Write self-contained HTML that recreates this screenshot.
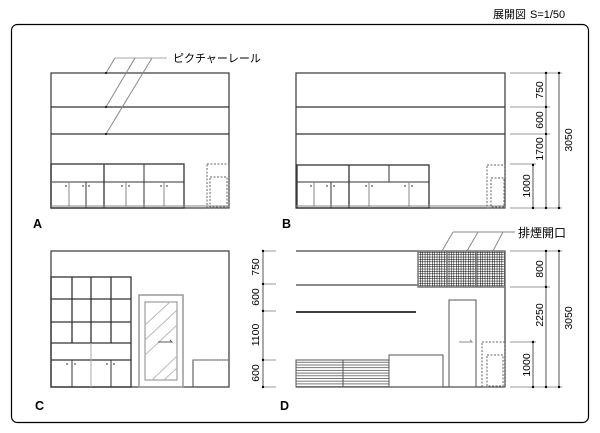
<!DOCTYPE html>
<html><head><meta charset="utf-8"><style>
html,body{margin:0;padding:0;background:#fff;}
svg{display:block;}
text{font-family:"Liberation Sans","Noto Sans CJK JP",sans-serif;fill:#000;}
</style></head><body>
<svg width="600" height="433" viewBox="0 0 600 433" xmlns="http://www.w3.org/2000/svg">
<defs>
<pattern id="grid" width="2.4" height="2.4" patternUnits="userSpaceOnUse">
<rect width="2.4" height="2.4" fill="#fff"/>
<path d="M0 0H2.4M0 0V2.4" stroke="#000" stroke-width="1"/>
</pattern>
<pattern id="louv" width="10" height="2.7" patternUnits="userSpaceOnUse">
<rect width="10" height="2.7" fill="#fff"/>
<path d="M0 0.5H10" stroke="#555" stroke-width="0.8"/>
</pattern>
</defs>
<text x="493" y="18" font-size="11">展開図</text>
<text x="530" y="18" font-size="11">S=1/50</text>
<rect x="11.5" y="24.5" width="577" height="398" rx="6" fill="none" stroke="#000" stroke-width="1.2"/>

<g fill="none" stroke="#333" stroke-width="1">
<!-- A -->
<rect x="51" y="73" width="178" height="135" stroke="#444" stroke-width="1.3"/>
<line x1="51" y1="107" x2="229" y2="107" stroke-width="1.3"/>
<line x1="51" y1="134" x2="229" y2="134" stroke-width="1.3"/>
<rect x="51" y="164" width="133" height="44" stroke-width="1.3"/>
<line x1="104" y1="164" x2="104" y2="208" stroke-width="1.3"/>
<line x1="144" y1="164" x2="144" y2="208"/>
<line x1="52" y1="182" x2="184" y2="182"/>
<line x1="69" y1="182" x2="69" y2="208" stroke="#888"/>
<line x1="86" y1="182" x2="86" y2="208"/>
<line x1="126" y1="182" x2="126" y2="208" stroke="#888"/>
<line x1="164" y1="182" x2="164" y2="208" stroke="#888"/>
<line x1="51" y1="206" x2="229" y2="206" stroke="#888"/>
<rect x="207" y="164" width="22" height="44" stroke="#666" stroke-dasharray="2,1.5"/>
<rect x="210" y="177" width="17" height="30" stroke="#666" stroke-dasharray="2,1.5"/>
<!-- leader A -->
<polyline points="167,58 115,58" stroke="#aaa"/>
<line x1="115" y1="58" x2="106" y2="73" stroke="#888"/>
<line x1="135" y1="58" x2="106" y2="107" stroke="#888"/>
<line x1="152" y1="58" x2="106" y2="134" stroke="#888"/>

<!-- B -->
<rect x="296" y="73" width="209" height="135" stroke="#444" stroke-width="1.3"/>
<line x1="296" y1="107" x2="505" y2="107" stroke-width="1.3"/>
<line x1="296" y1="134" x2="505" y2="134" stroke-width="1.3"/>
<rect x="297" y="165" width="132" height="43" stroke-width="1.3"/>
<line x1="349" y1="165" x2="349" y2="208" stroke-width="1.3"/>
<line x1="389" y1="165" x2="389" y2="182"/>
<line x1="297" y1="182" x2="429" y2="182"/>
<line x1="314" y1="182" x2="314" y2="208" stroke="#888"/>
<line x1="331" y1="182" x2="331" y2="208"/>
<line x1="369" y1="182" x2="369" y2="208" stroke="#888"/>
<line x1="409" y1="182" x2="409" y2="208" stroke="#888"/>
<line x1="296" y1="206" x2="505" y2="206" stroke="#888"/>
<rect x="487" y="165" width="18" height="43" stroke="#666" stroke-dasharray="2,1.5"/>
<rect x="491" y="178" width="13" height="29" stroke="#666" stroke-dasharray="2,1.5"/>
<!-- dims B -->
<g stroke="#999">
<line x1="510" y1="73" x2="562" y2="73"/><line x1="510" y1="107" x2="550" y2="107"/>
<line x1="510" y1="134" x2="550" y2="134"/><line x1="510" y1="164" x2="536" y2="164"/>
<line x1="510" y1="208" x2="562" y2="208"/>
</g>
<line x1="546" y1="73" x2="546" y2="208" stroke="#555"/>
<line x1="559" y1="73" x2="559" y2="208" stroke="#555"/>
<line x1="533" y1="164" x2="533" y2="208" stroke="#555"/>

<!-- C -->
<rect x="51" y="251" width="178" height="136" stroke="#444" stroke-width="1.3"/>
<rect x="51" y="277" width="80" height="110" stroke-width="1.3"/>
<line x1="51" y1="299" x2="131" y2="299" stroke-width="1.3"/>
<line x1="51" y1="322" x2="131" y2="322" stroke-width="1.3"/>
<line x1="51" y1="343" x2="131" y2="343" stroke-width="1.3"/>
<line x1="51" y1="360" x2="131" y2="360" stroke-width="1.3"/>
<line x1="72" y1="277" x2="72" y2="343" stroke-width="1.3"/>
<line x1="91" y1="277" x2="91" y2="343" stroke-width="1.3"/>
<line x1="111" y1="277" x2="111" y2="343" stroke-width="1.3"/>
<line x1="72" y1="360" x2="72" y2="387"/>
<line x1="91" y1="343" x2="91" y2="387" stroke="#aaa"/>
<line x1="111" y1="360" x2="111" y2="387"/>
<rect x="139" y="295" width="44" height="92" stroke="#999" stroke-width="1.5"/>
<rect x="145" y="302" width="32" height="78" stroke="#888"/>
<g stroke="#bbb"><line x1="145" y1="325" x2="170" y2="302"/><line x1="145" y1="340" x2="177" y2="310"/><line x1="145" y1="355" x2="177" y2="325"/><line x1="152" y1="380" x2="177" y2="356"/><line x1="164" y1="380" x2="177" y2="368"/></g>
<polyline points="158,342 172,342 170,340" stroke="#555"/>
<rect x="193" y="360" width="36" height="27" stroke="#444"/>
<line x1="193" y1="360" x2="229" y2="360" stroke="#777" stroke-dasharray="1.5,1"/>
<!-- dims C -->
<line x1="263" y1="251" x2="263" y2="387" stroke="#555"/>
<g stroke="#999"><line x1="263" y1="251" x2="276" y2="251"/><line x1="263" y1="284" x2="276" y2="284"/><line x1="263" y1="311" x2="276" y2="311"/><line x1="263" y1="360" x2="276" y2="360"/><line x1="263" y1="387" x2="276" y2="387"/></g>

<!-- D -->
<line x1="296" y1="251" x2="418" y2="251" stroke="#444" stroke-width="1.3"/>
<line x1="296" y1="285" x2="418" y2="285" stroke="#444" stroke-width="1.3"/>
<line x1="296" y1="312" x2="416" y2="312" stroke="#222" stroke-width="1.8"/>
<line x1="505" y1="287" x2="505" y2="387" stroke="#444" stroke-width="1.3"/>
<line x1="296" y1="387" x2="505" y2="387" stroke="#444" stroke-width="1.3"/>
<rect x="418" y="251" width="87" height="36" fill="url(#grid)" stroke="#777" stroke-width="1.5"/>
<line x1="447" y1="251" x2="447" y2="287" stroke="#777" stroke-width="1.5"/>
<line x1="476" y1="251" x2="476" y2="287" stroke="#777" stroke-width="1.5"/>
<rect x="449" y="300" width="27" height="87" stroke="#555"/>
<polyline points="459,342 472,342 470,340" stroke="#888"/>
<rect x="482" y="342" width="23" height="45" stroke="#666" stroke-dasharray="2,1.5"/>
<rect x="487" y="355" width="16" height="31" stroke="#666" stroke-dasharray="2,1.5"/>
<rect x="389" y="355" width="54" height="32" stroke="#555"/>
<rect x="296" y="360" width="93" height="27" fill="url(#louv)" stroke="#555"/>
<line x1="343" y1="360" x2="343" y2="387" stroke="#555"/>
<!-- leader D -->
<line x1="453" y1="232" x2="515" y2="232" stroke="#888"/>
<line x1="453" y1="232" x2="442" y2="251" stroke="#888"/>
<line x1="478" y1="232" x2="467" y2="251" stroke="#888"/>
<line x1="503" y1="232" x2="493" y2="251" stroke="#888"/>
<!-- dims D -->
<g stroke="#999"><line x1="510" y1="251" x2="562" y2="251"/><line x1="510" y1="287" x2="550" y2="287"/><line x1="510" y1="342" x2="536" y2="342"/><line x1="510" y1="387" x2="562" y2="387"/></g>
<line x1="546" y1="251" x2="546" y2="387" stroke="#555"/>
<line x1="559" y1="251" x2="559" y2="387" stroke="#555"/>
<line x1="533" y1="342" x2="533" y2="387" stroke="#555"/>
</g>

<g fill="#000">
<circle cx="106" cy="73" r="1"/><circle cx="106" cy="107" r="1"/><circle cx="106" cy="134" r="1"/>
<circle cx="66" cy="186" r=".7"/><circle cx="83" cy="186" r=".7"/><circle cx="89" cy="186" r=".7"/><circle cx="122" cy="186" r=".7"/><circle cx="129" cy="186" r=".7"/><circle cx="161" cy="186" r=".7"/><circle cx="167" cy="186" r=".7"/>
<circle cx="311" cy="186" r=".7"/><circle cx="327" cy="186" r=".7"/><circle cx="334" cy="186" r=".7"/><circle cx="366" cy="186" r=".7"/><circle cx="372" cy="186" r=".7"/><circle cx="405" cy="186" r=".7"/><circle cx="412" cy="186" r=".7"/>
<circle cx="67" cy="364" r=".7"/><circle cx="75" cy="364" r=".7"/><circle cx="107" cy="364" r=".7"/><circle cx="114" cy="364" r=".7"/>
<circle cx="546" cy="73" r="1.2"/><circle cx="546" cy="107" r="1.2"/><circle cx="546" cy="134" r="1.2"/><circle cx="546" cy="208" r="1.2"/>
<circle cx="559" cy="73" r="1.2"/><circle cx="559" cy="208" r="1.2"/><circle cx="533" cy="165" r="1.2"/><circle cx="533" cy="208" r="1.2"/>
<circle cx="263" cy="251" r="1.2"/><circle cx="263" cy="284" r="1.2"/><circle cx="263" cy="311" r="1.2"/><circle cx="263" cy="360" r="1.2"/><circle cx="263" cy="387" r="1.2"/>
<circle cx="546" cy="251" r="1.2"/><circle cx="546" cy="287" r="1.2"/><circle cx="546" cy="387" r="1.2"/>
<circle cx="559" cy="251" r="1.2"/><circle cx="559" cy="387" r="1.2"/><circle cx="533" cy="342" r="1.2"/><circle cx="533" cy="387" r="1.2"/>
</g>

<text x="173" y="62" font-size="11">ピクチャーレール</text>
<text x="518" y="237" font-size="12">排煙開口</text>
<g font-size="12.5" font-weight="bold">
<text x="33" y="228">A</text><text x="282" y="228">B</text>
<text x="35" y="410">C</text><text x="280" y="410">D</text>
</g>
<g font-size="10.5" text-anchor="middle">
<text transform="translate(543,90) rotate(-90)">750</text>
<text transform="translate(543,120) rotate(-90)">600</text>
<text transform="translate(543,149) rotate(-90)">1700</text>
<text transform="translate(530,186) rotate(-90)">1000</text>
<text transform="translate(572,140) rotate(-90)">3050</text>
<text transform="translate(259,267) rotate(-90)">750</text>
<text transform="translate(259,297) rotate(-90)">600</text>
<text transform="translate(259,335) rotate(-90)">1100</text>
<text transform="translate(259,373) rotate(-90)">600</text>
<text transform="translate(543,269) rotate(-90)">800</text>
<text transform="translate(543,315) rotate(-90)">2250</text>
<text transform="translate(530,365) rotate(-90)">1000</text>
<text transform="translate(572,318) rotate(-90)">3050</text>
</g>
</svg>
</body></html>
